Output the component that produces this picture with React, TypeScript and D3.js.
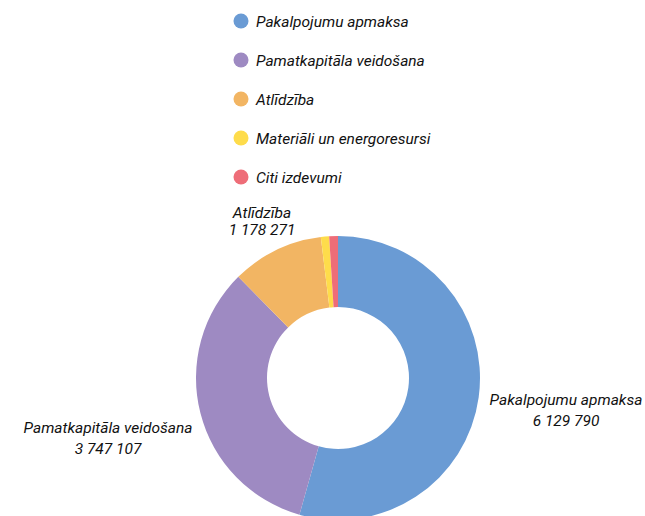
import React from "react";
import * as d3 from "d3";

const categories = [
  "Pakalpojumu apmaksa",
  "Pamatkapitāla veidošana",
  "Atlīdzība",
  "Materiāli un energoresursi",
  "Citi izdevumi",
];
const values = [6129790, 3747107, 1178271, 106000, 112000];
const labelled = [true, true, true, false, false];
const colors = ["#6A9BD4", "#9E8AC2", "#F2B563", "#FEDC4B", "#EE6D78"];

const W = 645;
const H = 516;
const cx = 338;
const cy = 378;
const outerR = 142;
const innerR = 71;

// label anchor positions (text centre, first baseline, line gap)
const labelPos: [number, number, number][] = [
  [566, 405, 21],
  [108, 433, 21],
  [262, 218, 17],
  [0, 0, 0],
  [0, 0, 0],
];

const fmt = (v: number) => d3.format(",")(v).replace(/,/g, " ");

export default function App() {
  const data = categories.map((c, i) => ({ name: c, value: values[i], i }));
  const pie = d3.pie<any>().sort(null).value((d) => d.value);
  const arcs = pie(data);
  const arc = d3.arc<any>().innerRadius(innerR).outerRadius(outerR);

  const font = "Roboto, 'Noto Sans', sans-serif";

  return (
    <svg
      width={W}
      height={H}
      style={{ position: "absolute", left: 0, top: 0, background: "#fff" }}
      fontFamily={font}
    >
      <g transform={`translate(${cx},${cy})`}>
        {arcs.map((a, i) => (
          <path key={i} d={arc(a) as string} fill={colors[i]} />
        ))}
      </g>
      {labelPos.map((p, i) =>
        labelled[i] ? (
          <text
            key={i}
            x={p[0]}
            y={p[1]}
            textAnchor="middle"
            fontSize={15.5}
            fontStyle="italic"
            fill="#111"
          >
            <tspan x={p[0]}>{categories[i]}</tspan>
            <tspan x={p[0]} dy={p[2]}>
              {fmt(values[i])}
            </tspan>
          </text>
        ) : null
      )}
      <g>
        {categories.map((c, i) => (
          <g key={c} transform={`translate(241,${21 + i * 39})`}>
            <circle r={7.5} fill={colors[i]} />
            <text x={15} y={5.5} fontSize={15.5} fontStyle="italic" fill="#111">
              {c}
            </text>
          </g>
        ))}
      </g>
    </svg>
  );
}
